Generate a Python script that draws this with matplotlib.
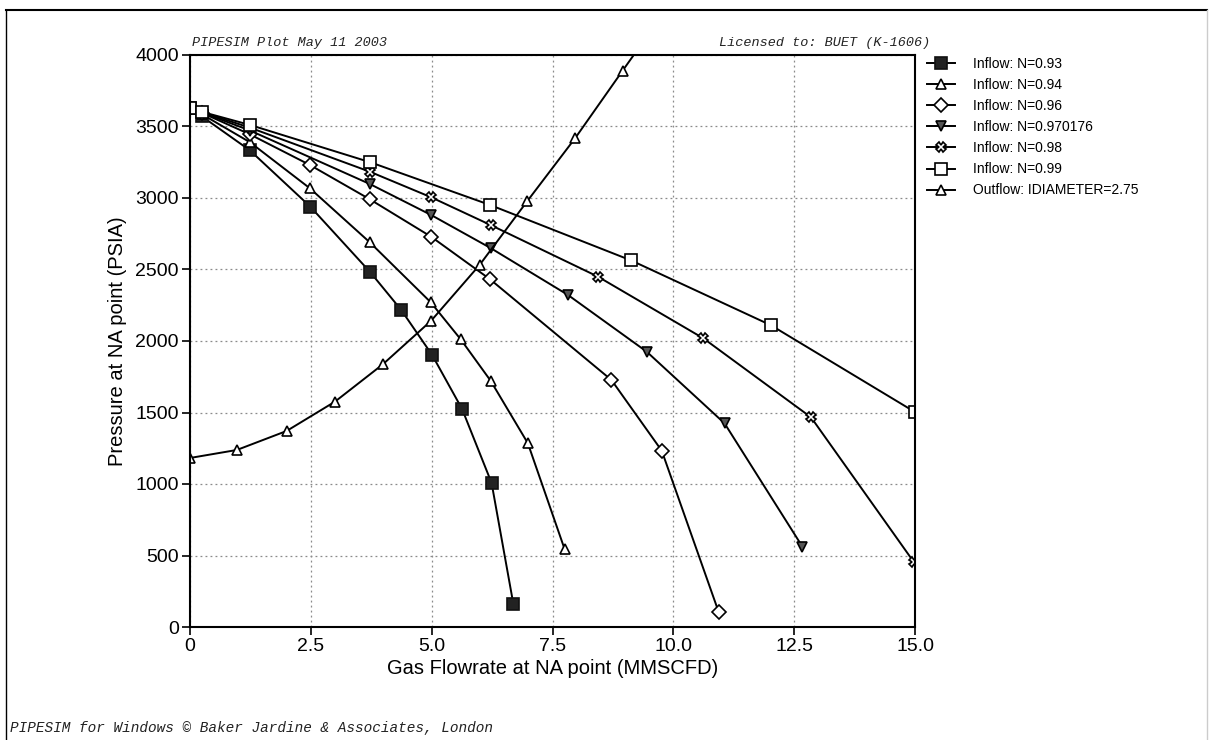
import matplotlib
matplotlib.use("Agg")
import matplotlib.pyplot as plt
from matplotlib.lines import Line2D

# Inflow performance curves (flowrate MMSCFD, pressure PSIA)
n093_x = [0, 0.25, 1.24, 2.49, 3.73, 4.37, 5.01, 5.63, 6.24, 6.69]
n093_y = [3627, 3570, 3333, 2939, 2481, 2217, 1902, 1524, 1007, 161]

n094_x = [0, 0.25, 1.24, 2.48, 3.72, 4.98, 5.60, 6.22, 6.99, 7.75]
n094_y = [3627, 3585, 3390, 3068, 2690, 2271, 2012, 1722, 1285, 545]

n096_x = [0, 0.25, 1.24, 2.48, 3.72, 4.99, 6.21, 8.72, 9.76, 10.94]
n096_y = [3627, 3595, 3445, 3231, 2991, 2729, 2431, 1727, 1233, 103]

n0970_x = [0, 0.25, 1.24, 3.72, 4.99, 6.22, 7.82, 9.45, 11.06, 12.67]
n0970_y = [3627, 3598, 3472, 3098, 2881, 2650, 2322, 1925, 1424, 562]

n098_x = [0, 0.25, 1.24, 3.72, 4.99, 6.22, 8.44, 10.62, 12.85, 14.97]
n098_y = [3627, 3600, 3492, 3184, 3005, 2811, 2450, 2019, 1466, 457]

n099_x = [0, 0.24, 1.25, 3.73, 6.21, 9.13, 12.02, 15.0]
n099_y = [3627, 3603, 3510, 3250, 2951, 2563, 2110, 1503]

# Outflow (tubing) performance curve
out_x = [0, 0.97, 2.0, 3.0, 3.99, 4.99, 5.99, 6.98, 7.97, 8.95, 10.0]
out_y = [1182, 1238, 1371, 1576, 1837, 2142, 2531, 2979, 3419, 3890, 4390]

labels = ["Inflow: N=0.93", "Inflow: N=0.94", "Inflow: N=0.96",
          "Inflow: N=0.970176", "Inflow: N=0.98", "Inflow: N=0.99",
          "Outflow: IDIAMETER=2.75"]

x_ticks = [0, 2.5, 5.0, 7.5, 10.0, 12.5, 15.0]
x_tick_labels = ["0", "2.5", "5.0", "7.5", "10.0", "12.5", "15.0"]
y_ticks = [0, 500, 1000, 1500, 2000, 2500, 3000, 3500, 4000]

plt.rcParams["font.family"] = ["Liberation Sans", "DejaVu Sans"]

W, H = 1210, 740
fig = plt.figure(figsize=(W / 100, H / 100), dpi=100)
fig.patch.set_facecolor("white")
ax = fig.add_axes([190 / W, 1 - 627 / H, (915 - 190) / W, (627 - 55) / H])

lw = 1.4
series = [
    (n093_x, n093_y, dict(marker="s", ms=8, mfc="#222222", mec="#111111")),
    (n094_x, n094_y, dict(marker="^", ms=7, mfc="white", mec="black")),
    (n096_x, n096_y, dict(marker="D", ms=7.5, mfc="white", mec="black")),
    (n0970_x, n0970_y, dict(marker="v", ms=7.5, mfc="#555555", mec="black")),
    (n098_x, n098_y, dict(marker="X", ms=6.5, mfc="white", mec="black")),
    (n099_x, n099_y, dict(marker="s", ms=9, mfc="white", mec="black")),
    (out_x, out_y, dict(marker="^", ms=7.5, mfc="white", mec="black")),
]
for (xs, ys, style), lab in zip(series, labels):
    ax.plot(xs, ys, color="black", lw=lw, mew=1.2, label=lab, **style)

ax.set_xlim(0, 15)
ax.set_ylim(0, 4000)
ax.set_xticks(x_ticks)
ax.set_xticklabels(x_tick_labels)
ax.set_yticks(y_ticks)
ax.grid(True, linestyle=(0, (1.5, 2.5)), color="#8a8a8a", lw=0.9)
ax.set_axisbelow(True)
for sp in ax.spines.values():
    sp.set_linewidth(1.5)
ax.tick_params(direction="out", length=6, width=1.2, labelsize=14, pad=2)

ax.set_xlabel("Gas Flowrate at NA point (MMSCFD)", fontsize=14.5, labelpad=3)
ax.set_ylabel("Pressure at NA point (PSIA)", fontsize=14.5, labelpad=6)

mono = dict(family=["Liberation Mono", "DejaVu Sans Mono"], style="italic",
            color="#222222")
fig.text(192 / W, 1 - 43 / H, "PIPESIM Plot May 11 2003", ha="left", va="center",
         fontsize=9.7, **mono)
fig.text(930 / W, 1 - 43 / H, "Licensed to: BUET (K-1606)", ha="right", va="center",
         fontsize=9.7, **mono)
fig.text(10 / W, 1 - 728 / H,
         "PIPESIM for Windows \u00a9 Baker Jardine & Associates, London",
         ha="left", va="center", fontsize=10.4, **mono)

leg = fig.legend(*ax.get_legend_handles_labels(), loc="upper left",
                 bbox_to_anchor=(927 / W, 1 - 57 / H), frameon=False,
                 fontsize=10, handlelength=2.0, handletextpad=1.3,
                 labelspacing=0.51, borderpad=0, borderaxespad=0)

# Page frame
fig.add_artist(Line2D([6 / W, 1207 / W], [1 - 10 / H, 1 - 10 / H],
                      transform=fig.transFigure, color="black", lw=1.5))
fig.add_artist(Line2D([6 / W, 6 / W], [0, 1 - 10 / H],
                      transform=fig.transFigure, color="black", lw=1.0))
fig.add_artist(Line2D([1207 / W, 1207 / W], [0, 1 - 10 / H],
                      transform=fig.transFigure, color="#cccccc", lw=1.0))

fig.savefig("out.png", dpi=100, facecolor="white")
